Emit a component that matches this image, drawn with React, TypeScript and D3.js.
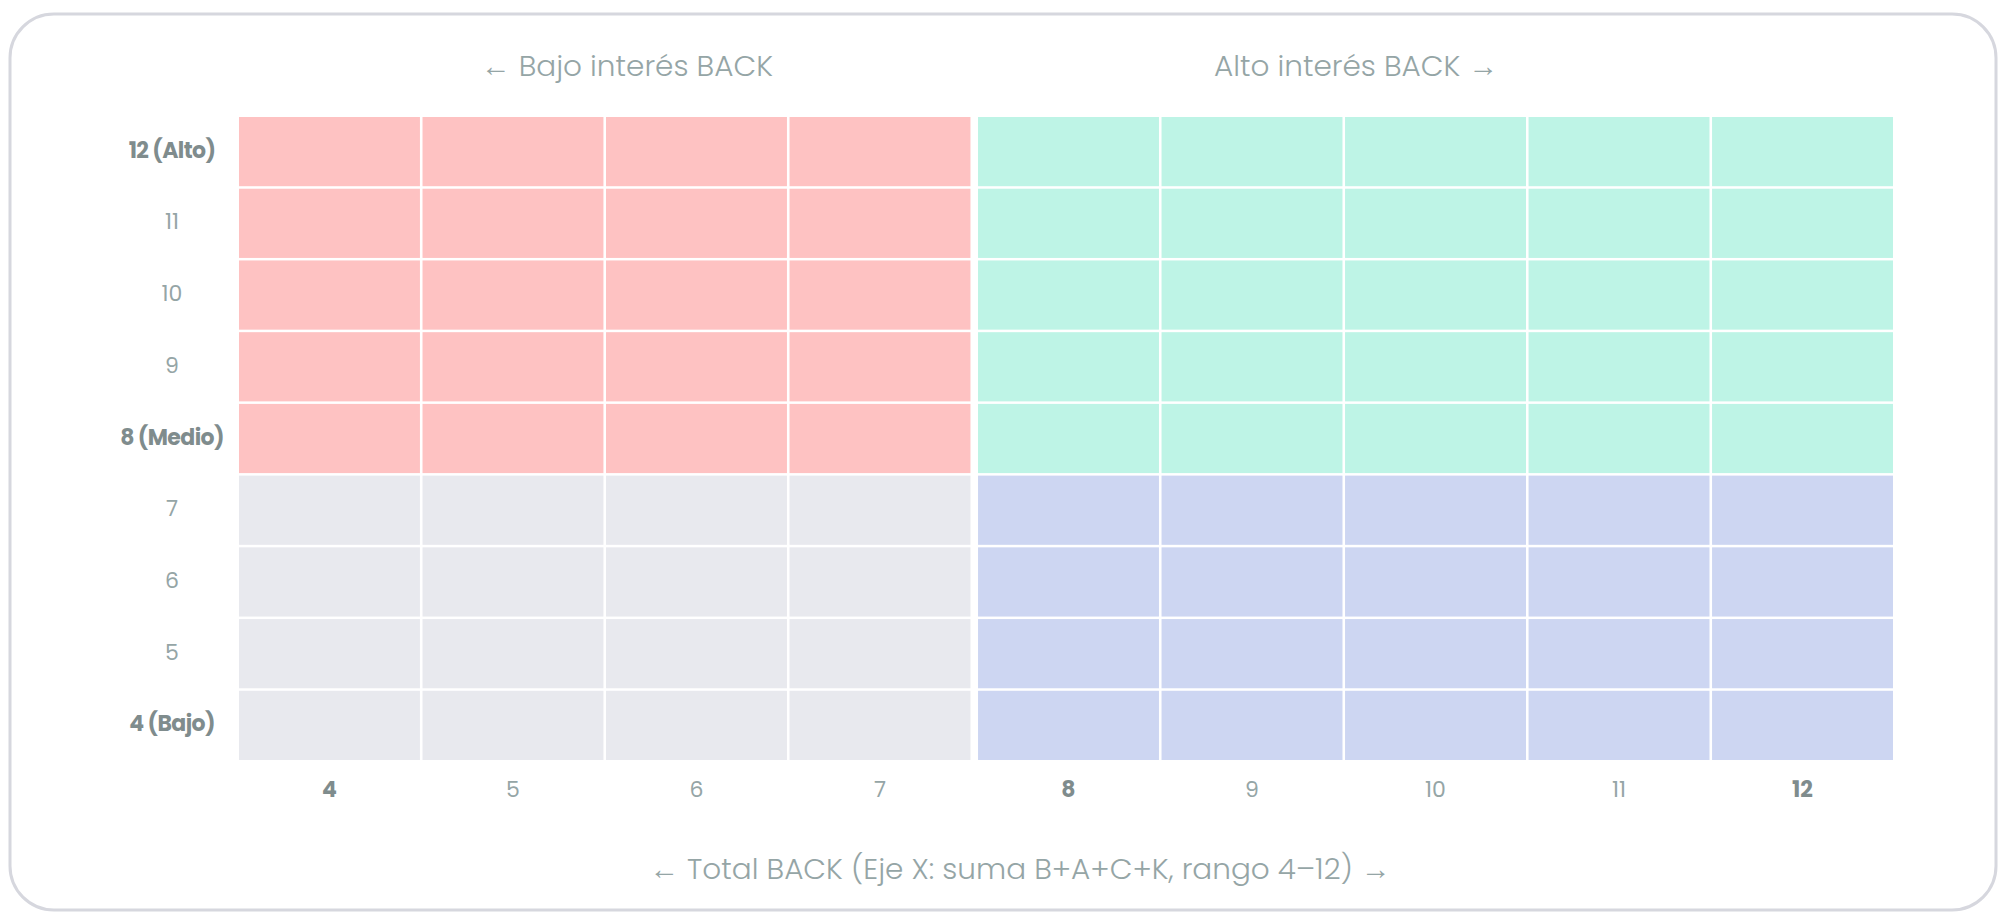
import { useEffect, useRef } from 'react'
import * as d3 from 'd3'

// Eje X: Total BACK (4–12), Eje Y: nivel (4–12)
const xValues = [4, 5, 6, 7, 8, 9, 10, 11, 12]
const yValues = [12, 11, 10, 9, 8, 7, 6, 5, 4]
const xTickLabels = ['4', '5', '6', '7', '8', '9', '10', '11', '12']
const yTickLabels = ['12 (Alto)', '11', '10', '9', '8 (Medio)', '7', '6', '5', '4 (Bajo)']
const boldTicks = [4, 8, 12]
const threshold = 8

const headerLabels = ['← Bajo interés BACK', 'Alto interés BACK →']
const xTitle = '← Total BACK (Eje X: suma B+A+C+K, rango 4–12) →'

const colorHighHigh = '#bef4e6'
const colorLowHigh = '#fec2c2'
const colorLowLow = '#e8e9ee'
const colorHighLow = '#cdd6f2'

const FONT = "Poppins, 'Open Sans', 'Noto Sans', sans-serif"

export default function App() {
  const svgRef = useRef<SVGSVGElement>(null)

  useEffect(() => {
    if (!svgRef.current) return
    const width = 1999
    const height = 912
    const grid = { left: 239, right: 1893, top: 117, bottom: 760 }
    const midGap = 5

    const svg = d3.select(svgRef.current)
    svg.selectAll('*').remove()
    svg.attr('width', width).attr('height', height)

    // card
    svg.append('rect')
      .attr('x', 10).attr('y', 14)
      .attr('width', 1986).attr('height', 896)
      .attr('rx', 44)
      .attr('fill', '#fff')
      .attr('stroke', '#d6d7de')
      .attr('stroke-width', 3)

    const x = d3.scaleBand<number>()
      .domain(xValues)
      .range([0, grid.right - grid.left - midGap])
      .paddingInner(0.014)
    const xPos = (v: number) => grid.left + (x(v) ?? 0) + (v >= threshold ? midGap : 0)

    const y = d3.scaleBand<number>()
      .domain(yValues)
      .range([grid.top, grid.bottom])
      .paddingInner(0.035)

    const cellColor = (cx: number, cy: number) => {
      if (cy >= threshold) return cx >= threshold ? colorHighHigh : colorLowHigh
      return cx >= threshold ? colorHighLow : colorLowLow
    }

    const cells = yValues.flatMap((cy) => xValues.map((cx) => ({ cx, cy })))
    svg.append('g')
      .selectAll('rect')
      .data(cells)
      .join('rect')
      .attr('x', (d) => xPos(d.cx))
      .attr('y', (d) => y(d.cy) ?? 0)
      .attr('width', x.bandwidth())
      .attr('height', y.bandwidth())
      .attr('fill', (d) => cellColor(d.cx, d.cy))

    // y tick labels
    svg.append('g')
      .selectAll('text')
      .data(yValues)
      .join('text')
      .attr('x', 172)
      .attr('y', (d) => (y(d) ?? 0) + y.bandwidth() / 2 + 6)
      .attr('text-anchor', 'middle')
      .attr('font-family', FONT)
      .attr('font-size', 22)
      .attr('font-weight', (d) => (boldTicks.includes(d) ? 700 : 400))
      .attr('letter-spacing', (d) => (boldTicks.includes(d) ? -0.6 : 0))
      .attr('fill', (d) => (boldTicks.includes(d) ? '#7f8c8d' : '#95a5a6'))
      .text((_, i) => yTickLabels[i])

    // x tick labels
    svg.append('g')
      .selectAll('text')
      .data(xValues)
      .join('text')
      .attr('x', (d) => xPos(d) + x.bandwidth() / 2)
      .attr('y', 797)
      .attr('text-anchor', 'middle')
      .attr('font-family', FONT)
      .attr('font-size', 22)
      .attr('font-weight', (d) => (boldTicks.includes(d) ? 700 : 400))
      .attr('fill', (d) => (boldTicks.includes(d) ? '#7f8c8d' : '#95a5a6'))
      .text((_, i) => xTickLabels[i])

    // header labels
    const headerX = [627, 1356]
    svg.append('g')
      .selectAll('text')
      .data(headerLabels)
      .join('text')
      .attr('x', (_, i) => headerX[i])
      .attr('y', 76)
      .attr('text-anchor', 'middle')
      .attr('font-family', FONT)
      .attr('font-size', 29.5)
      .attr('font-weight', 300)
      .attr('fill', '#95a5a6')
      .text((d) => d)

    // x title
    svg.append('text')
      .attr('x', 1020)
      .attr('y', 879)
      .attr('text-anchor', 'middle')
      .attr('font-family', FONT)
      .attr('font-size', 29.5)
      .attr('font-weight', 300)
      .attr('fill', '#95a5a6')
      .text(xTitle)
  }, [])

  return (
    <div style={{ position: 'absolute', left: 0, top: 0 }}>
      <svg ref={svgRef} style={{ display: 'block' }} />
    </div>
  )
}
